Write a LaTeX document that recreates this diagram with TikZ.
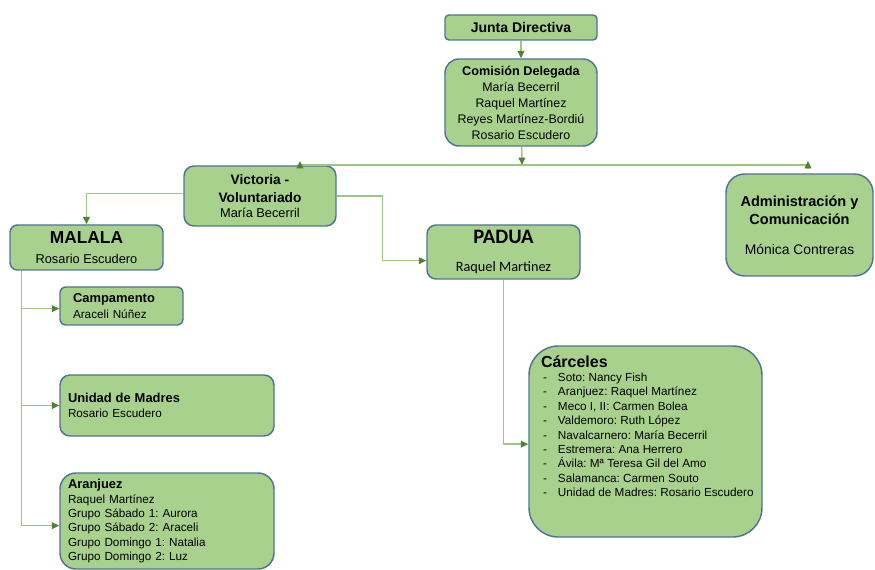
\documentclass[tikz,border=0pt]{standalone}
\usepackage{fontspec}
\setmainfont{Liberation Sans}
\newfontfamily\calfont{Carlito}
\usetikzlibrary{arrows.meta}
\definecolor{cajaverde}{RGB}{169,209,142}
\definecolor{bordeazul}{RGB}{82,116,148}
\definecolor{lineaverde}{RGB}{158,198,132}
\definecolor{puntaverde}{RGB}{84,130,53}
\newcommand{\guion}[1]{\hspace*{1.5pt}\makebox[11.25pt][l]{-}\mbox{#1}}
\begin{document}
\begin{tikzpicture}[x=.75pt,y=-.75pt,
            caja/.style={draw=bordeazul,line width=1.1pt,fill=cajaverde,inner sep=0pt,align=center,
                execute at begin node=\frenchspacing},
            cajal/.style={caja,align=left},
            linea/.style={draw=lineaverde,line width=1.1pt},
            flecha/.style={linea,-{Triangle[length=5.5pt,width=5pt,color=puntaverde]}}]
            \useasboundingbox (0,0) rectangle (875,570);
            \path
            (521,27.5) node[caja,minimum width=114pt,minimum height=18.75pt,rounded corners=3pt,
                font=\fontsize{10.5}{12}\selectfont\bfseries] (junta) {Junta Directiva} % <<< nivel 1
            (521,102.5) node[caja,minimum width=114pt,minimum height=65.25pt,rounded corners=10.5pt,
                font=\fontsize{9.3}{12}\selectfont] (comision)
                {{\fontsize{9.5}{12}\selectfont\bfseries Comisión Delegada}\\María Becerril\\Raquel Martínez\\Reyes Martínez-Bordiú\\Rosario Escudero}
            (260,196) node[caja,minimum width=114pt,minimum height=45pt,rounded corners=7.5pt,
                font=\fontsize{9.6}{13.5}\selectfont] (victoria) % <<< nivel 2
                {{\fontsize{10.3}{13.5}\selectfont\bfseries Victoria -}\\{\fontsize{10.3}{13.5}\selectfont\bfseries Voluntariado}\\[-2.25pt]María Becerril}
            (799.5,225) node[caja,minimum width=110.25pt,minimum height=76.5pt,rounded corners=14pt,
                font=\fontsize{10.4}{13.5}\selectfont] (admin)
                {{\fontsize{10.9}{13.5}\selectfont\bfseries Administración y}\\{\fontsize{10.9}{13.5}\selectfont\bfseries Comunicación}\\[9pt]Mónica Contreras}
            (86.5,247.5) node[caja,minimum width=114.75pt,minimum height=33.75pt,rounded corners=5.6pt,
                font=\fontsize{9.6}{15}\selectfont] (malala) % <<< nivel 3
                {{\fontsize{13}{15}\selectfont\bfseries MALALA}\\Rosario Escudero}
            (503.5,252) node[caja,minimum width=114.75pt,minimum height=40.5pt,rounded corners=6.75pt,
                font=\calfont\fontsize{10.7}{21}\selectfont] (padua)
                {{\fontsize{15.4}{21}\selectfont\bfseries PADUA}\\Raquel Martinez}
            (121.5,306) node[cajal,text width=72.75pt,inner xsep=9.75pt,minimum height=28.5pt,rounded corners=4.5pt,
                font=\fontsize{8.8}{12}\selectfont] (campamento) % <<< nivel 4
                {{\fontsize{9.7}{12}\selectfont\bfseries Campamento}\\Araceli Núñez}
            (167,405.5) node[cajal,text width=148.5pt,inner xsep=6pt,minimum height=45.75pt,rounded corners=7.5pt,
                font=\fontsize{8.8}{11.25}\selectfont] (unidad)
                {{\fontsize{9.7}{11.25}\selectfont\bfseries Unidad de Madres}\\Rosario Escudero}
            (167,521) node[cajal,text width=148.5pt,inner xsep=6pt,minimum height=72pt,rounded corners=12pt,
                font=\fontsize{8.8}{10.7}\selectfont] (aranjuez)
                {{\fontsize{9.7}{10.7}\selectfont\bfseries Aranjuez}\\[0.5pt]Raquel Martínez\\Grupo Sábado 1: Aurora\\Grupo Sábado 2: Araceli\\Grupo Domingo 1: Natalia\\Grupo Domingo 2: Luz}
            (645.5,441.5) node[cajal,inner xsep=9pt,inner ysep=7pt,rounded corners=22pt,
                font=\fontsize{8.8}{10.8}\selectfont] (carceles)
                {\parbox[c][129.25pt][t]{156.75pt}{\raggedright\frenchspacing\hbadness=10000\hfuzz=20pt
                {\fontsize{12}{10.8}\selectfont\bfseries Cárceles}\\
                \guion{Soto: Nancy Fish}\\
                \guion{Aranjuez: Raquel Martínez}\\
                \guion{Meco I, II: Carmen Bolea}\\
                \guion{Valdemoro: Ruth López}\\
                \guion{Navalcarnero: María Becerril}\\
                \guion{Estremera: Ana Herrero}\\
                \guion{Ávila: Mª Teresa Gil del Amo}\\
                \guion{Salamanca: Carmen Souto}\\
                \guion{Unidad de Madres: Rosario Escudero}}};
            \coordinate (cruce) at (522,165);
            \coordinate (pv) at (300,165);
            \coordinate (pa) at (808,165);
            \coordinate (tronco) at ([xshift=9pt]malala.south west);
            \draw[linea] (pv)--(pa);
            \begin{scope}[flecha]
                \draw (junta)--(comision);
                \draw (comision)--(cruce);
                \draw ([yshift=-2.5pt]pv)--([yshift=3pt]pv);
                \draw ([yshift=-2.5pt]pa)--([yshift=3pt]pa);
                \draw ([yshift=2pt]victoria.west) -| (malala.north);
                \draw (victoria.east) -- ++(46,0) |- ([yshift=-6.5pt]padua.west);
                \draw (padua.south) |- ([yshift=-2pt]carceles.west);
                \draw (tronco) |- ([yshift=-2pt]campamento.west);
                \draw (tronco) |- (unidad.west);
                \draw (tronco) |- ([yshift=-3.5pt]aranjuez.west);
            \end{scope}
        \end{tikzpicture}
\end{document}
